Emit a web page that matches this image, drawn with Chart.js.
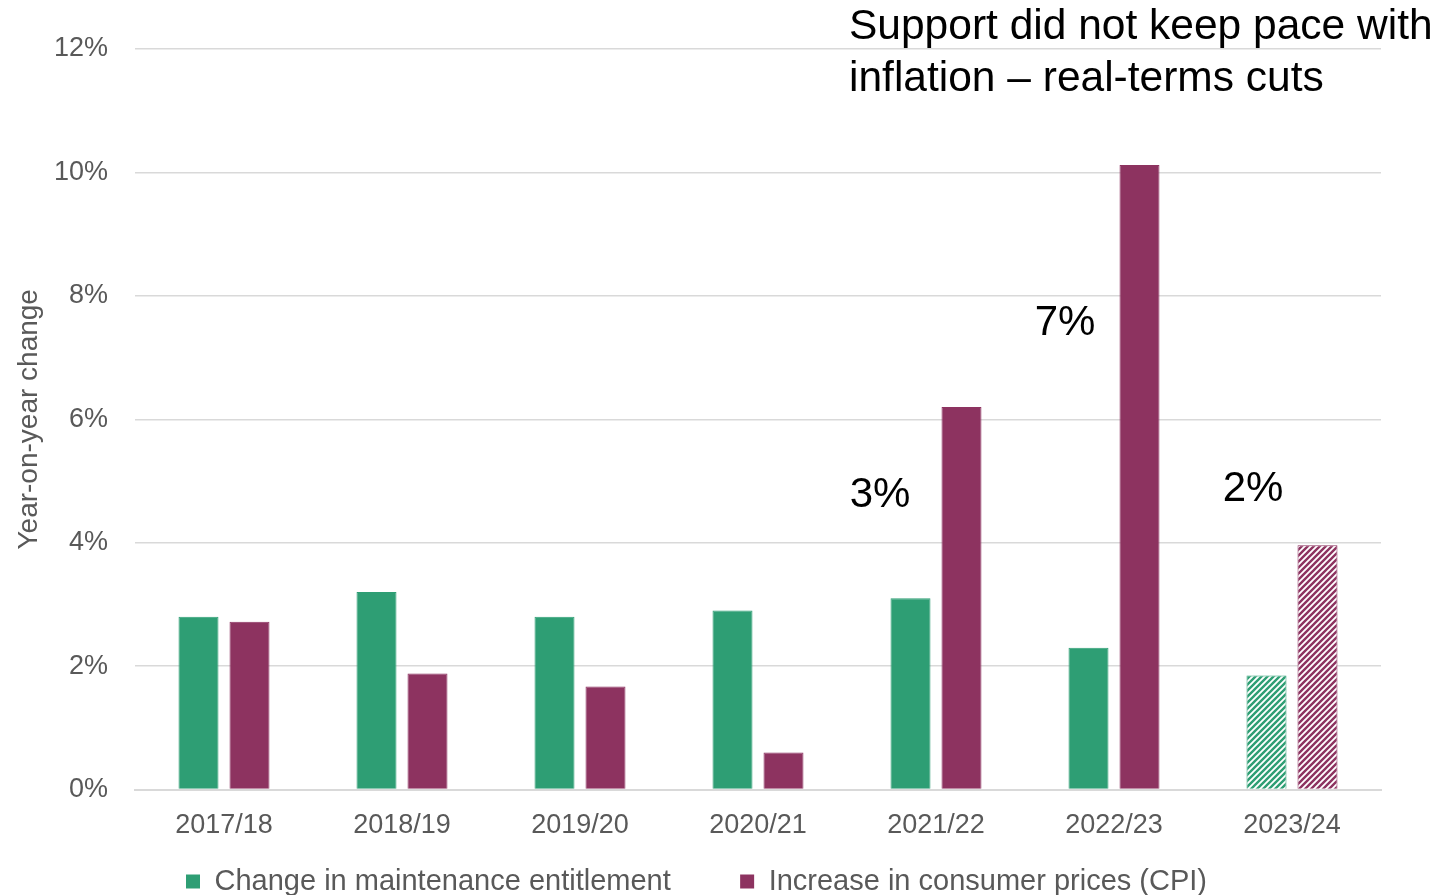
<!DOCTYPE html>
<html>
<head>
<meta charset="utf-8">
<script src="https://cdn.jsdelivr.net/npm/chart.js@4"></script>
<style>
  html, body { margin: 0; padding: 0; background: #fff; overflow: hidden; }
  #wrap { position: relative; width: 1445px; height: 906px; }
</style>
</head>
<body>
<div id="wrap"><canvas id="chart"></canvas></div>
<script>
// Data
const years = ['2017/18', '2018/19', '2019/20', '2020/21', '2021/22', '2022/23', '2023/24'];
const entitlementChange = [2.8, 3.2, 2.8, 2.9, 3.1, 2.3, 1.85];
const cpiChange = [2.72, 1.88, 1.67, 0.6, 6.2, 10.12, 3.96];
const gapLabels = ['3%', '7%', '2%'];
const gapYears = ['2021/22', '2022/23', '2023/24'];
const gapLabelValues = [4.76, 7.55, 4.87];

const green = '#2e9e74';
const purple = '#8d3360';
const font = '"Liberation Sans", Arial, sans-serif';

// striped pattern for the forecast year
function stripes(color) {
    const c = document.createElement('canvas');
    c.width = 6; c.height = 6;
    const g = c.getContext('2d');
    g.fillStyle = '#fff';
    g.fillRect(0, 0, 6, 6);
    g.strokeStyle = color;
    g.lineWidth = 2.4;
    g.beginPath();
    g.moveTo(-1, 7); g.lineTo(7, -1);
    g.moveTo(-4, 4); g.lineTo(4, -4);
    g.moveTo(2, 10); g.lineTo(10, 2);
    g.stroke();
    return g.createPattern(c, 'repeat');
}

const lastIdx = years.length - 1;
const greenFill = years.map((y, i) => i === lastIdx ? stripes(green) : green);
const purpleFill = years.map((y, i) => i === lastIdx ? stripes(purple) : purple);

// annotation texts
const notes = {
    id: 'notes',
    afterDraw(chart) {
        const { ctx, scales } = chart;
        ctx.save();
        ctx.fillStyle = '#000';
        ctx.textAlign = 'center';
        ctx.textBaseline = 'middle';
        ctx.font = '42px ' + font;
        const offs = [-56, -49, -39];
        gapLabels.forEach((t, i) => {
            const x = scales.x.getPixelForValue(years.indexOf(gapYears[i])) + offs[i];
            const y = scales.y.getPixelForValue(gapLabelValues[i]);
            ctx.fillText(t, x, y);
        });
        ctx.textAlign = 'left';
        ctx.font = '42.5px ' + font;
        ctx.fillText('Support did not keep pace with', 849, 27);
        ctx.fillText('inflation \u2013 real-terms cuts', 849, 79);
        ctx.restore();
    }
};

const ctx = document.getElementById('chart').getContext('2d');
new Chart(ctx, {
    type: 'bar',
    data: {
        labels: years,
        datasets: [{
            label: 'Change in maintenance entitlement',
            data: entitlementChange,
            backgroundColor: greenFill,
            borderColor: green,
            borderWidth: 1,
            categoryPercentage: 0.573,
            barPercentage: 0.784
        }, {
            label: 'Increase in consumer prices (CPI)',
            data: cpiChange,
            backgroundColor: purpleFill,
            borderColor: purple,
            borderWidth: 1,
            categoryPercentage: 0.573,
            barPercentage: 0.784
        }]
    },
    options: {
        responsive: true,
        maintainAspectRatio: false,
        animation: false,
        layout: { padding: { left: 12, right: 64, top: 49, bottom: 0 } },
        plugins: {
            tooltip: { enabled: false },
            legend: {
                position: 'bottom',
                labels: {
                    color: '#595959',
                    font: { family: font, size: 29 },
                    boxWidth: 14,
                    boxHeight: 14,
                    padding: 13,
                    generateLabels(chart) {
                        return chart.data.datasets.map((d, i) => ({
                            // extra spaces widen the gap between the two items
                            text: i === 0 ? d.label + '\u00a0'.repeat(7) : d.label,
                            fillStyle: i === 0 ? green : purple,
                            strokeStyle: i === 0 ? green : purple,
                            lineWidth: 0,
                            fontColor: '#595959',
                            datasetIndex: i
                        }));
                    }
                }
            }
        },
        scales: {
            x: {
                grid: { display: false },
                border: { color: '#d9d9d9', width: 2 },
                ticks: {
                    color: '#595959',
                    font: { family: font, size: 27 },
                    padding: 12
                }
            },
            y: {
                min: 0,
                max: 12,
                afterFit(scale) { scale.width = 123; },
                grid: { color: '#d9d9d9', lineWidth: 1.5, drawTicks: false },
                border: { display: false },
                ticks: {
                    stepSize: 2,
                    color: '#595959',
                    padding: 27,
                    font: { family: font, size: 27 },
                    callback: v => v + '%'
                },
                title: {
                    display: true,
                    text: 'Year-on-year change',
                    color: '#595959',
                    font: { family: font, size: 28 },
                    padding: 0
                }
            }
        }
    },
    plugins: [notes]
});
</script>
</body>
</html>
